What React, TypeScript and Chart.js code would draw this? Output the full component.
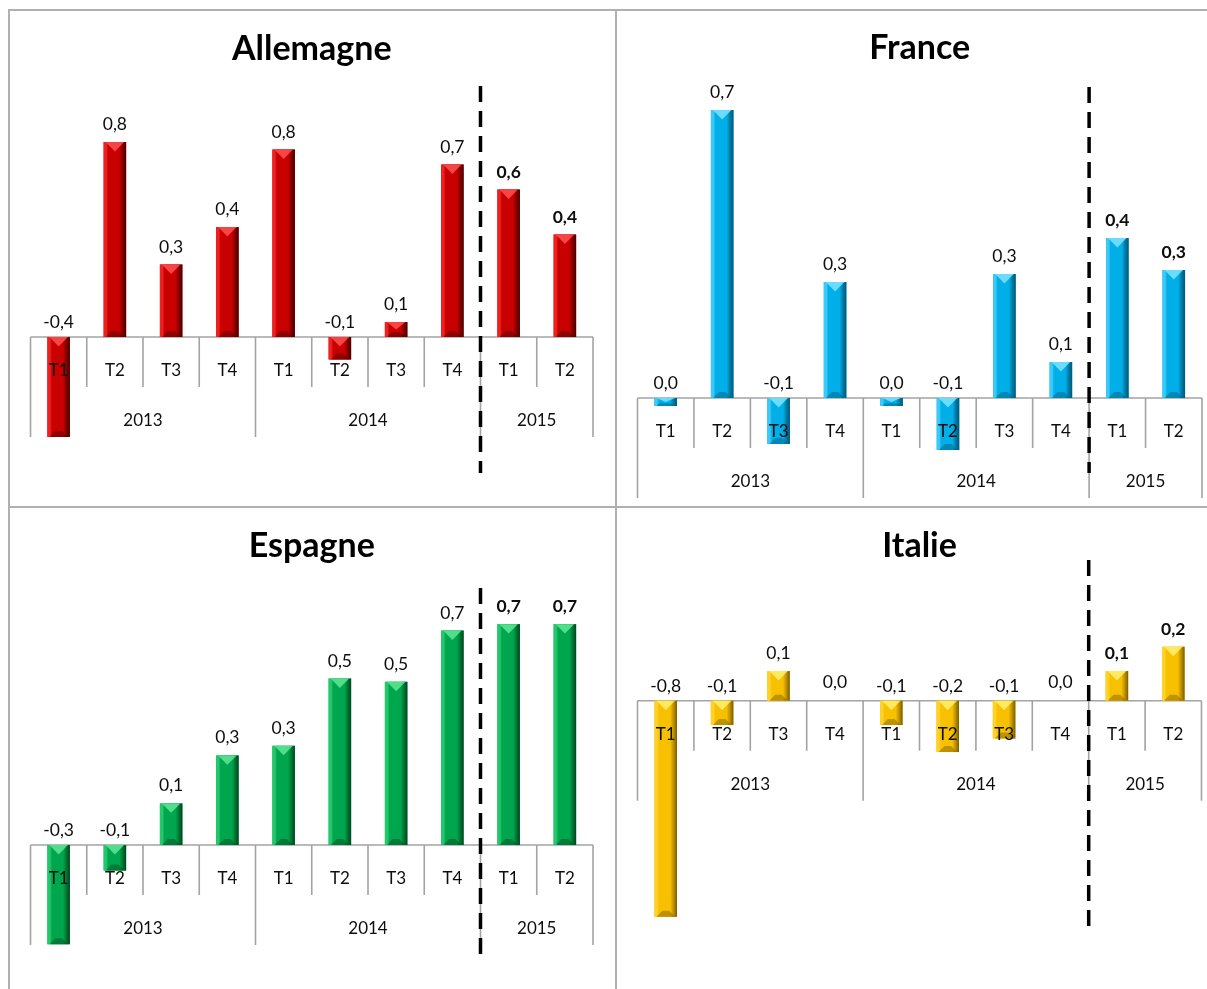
import React, { useEffect, useRef } from 'react';
import { Chart, registerables } from 'chart.js';

Chart.register(...registerables);

// ---------- data ----------
const quarterLabels = ['T1', 'T2', 'T3', 'T4', 'T1', 'T2', 'T3', 'T4', 'T1', 'T2'];
const yearLabels = ['2013', '2014', '2015'];
const yearSizes = [4, 4, 2];
const boldFromIndex = 8; // 2015 labels in bold
const dashAfterIndex = 7; // dashed separator between 2014 T4 and 2015 T1

const allemagneValues = [-0.4, 0.78, 0.29, 0.44, 0.75, -0.09, 0.06, 0.69, 0.59, 0.41];
const franceValues = [-0.02, 0.72, -0.115, 0.29, -0.02, -0.13, 0.31, 0.09, 0.4, 0.32];
const espagneValues = [-0.31, -0.08, 0.13, 0.28, 0.31, 0.52, 0.51, 0.67, 0.69, 0.69];
const italieValues = [-0.8, -0.09, 0.11, 0, -0.09, -0.19, -0.14, 0, 0.11, 0.2];

// ---------- style ----------
const FONT = "Lato, 'Open Sans', 'DejaVu Sans', sans-serif";
const AXIS_COLOR = '#a3a3a3';
const TEXT_COLOR = '#0d0d0d';

type Palette = { base: string; light: string; dark: string; top: string; bottom: string };
const red: Palette = { base: '#c80000', light: '#f02020', dark: '#4a0000', top: '#ff5050', bottom: '#7a0000' };
const blue: Palette = { base: '#00aee8', light: '#3cc8f8', dark: '#005a7a', top: '#7fe4ff', bottom: '#0076a0' };
const green: Palette = { base: '#00a64e', light: '#22c86a', dark: '#00461f', top: '#5ee896', bottom: '#00702f' };
const gold: Palette = { base: '#f7c000', light: '#ffd22a', dark: '#7a5c00', top: '#fff070', bottom: '#b88c00' };

type PanelSpec = {
  title: string;
  values: number[];
  palette: Palette;
  canvas: { x: number; y: number; w: number; h: number };
  area: { l: number; r: number; t: number; b: number };
  yMin: number;
  yMax: number;
  titleBaseline: number;
};

const panels: PanelSpec[] = [
  {
    title: 'Allemagne', values: allemagneValues, palette: red,
    canvas: { x: 0, y: 0, w: 612, h: 500 },
    area: { l: 30.5, r: 593, t: 86, b: 473 }, yMin: -0.544, yMax: 1.004, titleBaseline: 60,
  },
  {
    title: 'France', values: franceValues, palette: blue,
    canvas: { x: 612, y: 0, w: 595, h: 500 },
    area: { l: 637.5, r: 1202, t: 87, b: 473 }, yMin: -0.1875, yMax: 0.7775, titleBaseline: 59,
  },
  {
    title: 'Espagne', values: espagneValues, palette: green,
    canvas: { x: 0, y: 500, w: 612, h: 489 },
    area: { l: 30.5, r: 593, t: 588, b: 958 }, yMin: -0.353, yMax: 0.803, titleBaseline: 557,
  },
  {
    title: 'Italie', values: italieValues, palette: gold,
    canvas: { x: 612, y: 500, w: 595, h: 489 },
    area: { l: 637.5, r: 1201.5, t: 560, b: 929 }, yMin: -0.845, yMax: 0.521, titleBaseline: 557,
  },
];

function fmt(v: number): string {
  let r = Math.round(v * 10) / 10;
  if (Object.is(r, -0) || Math.abs(r) < 1e-9) r = 0;
  return r.toFixed(1).replace('.', ',');
}

function makePlugin(spec: PanelSpec) {
  return {
    id: 'panelDecor',
    beforeDatasetsDraw(chart: any) {
      const { ctx, chartArea } = chart;
      const xs = chart.scales.x;
      const ys = chart.scales.y;
      const y0 = ys.getPixelForValue(0);
      const n = quarterLabels.length;
      const half = (xs.getPixelForValue(1) - xs.getPixelForValue(0)) / 2;
      const groupBounds: number[] = [0];
      let acc = 0;
      yearSizes.forEach((s) => { acc += s; groupBounds.push(acc); });
      ctx.save();
      ctx.strokeStyle = AXIS_COLOR;
      ctx.lineWidth = 1.6;
      ctx.beginPath();
      ctx.moveTo(chartArea.left, y0);
      ctx.lineTo(chartArea.right, y0);
      ctx.stroke();
      for (let i = 0; i <= n; i++) {
        const bx = i < n ? xs.getPixelForValue(i) - half : xs.getPixelForValue(n - 1) + half;
        const isGroup = groupBounds.includes(i);
        ctx.beginPath();
        ctx.moveTo(bx, y0);
        ctx.lineTo(bx, y0 + (isGroup ? 100 : 50));
        ctx.stroke();
      }
      ctx.restore();
    },
    afterDatasetsDraw(chart: any) {
      const { ctx, chartArea } = chart;
      const xs = chart.scales.x;
      const ys = chart.scales.y;
      const y0 = ys.getPixelForValue(0);
      const half = (xs.getPixelForValue(1) - xs.getPixelForValue(0)) / 2;
      const p = spec.palette;
      const meta = chart.getDatasetMeta(0);
      ctx.save();
      // bevelled bars
      meta.data.forEach((el: any) => {
        const { x, y, base, width } = el.getProps(['x', 'y', 'base', 'width'], true);
        const left = x - width / 2;
        const right = x + width / 2;
        const top = Math.min(y, base);
        const bot = Math.max(y, base);
        const h = bot - top;
        if (h < 0.5) return;
        const g = ctx.createLinearGradient(left, 0, right, 0);
        g.addColorStop(0, p.light);
        g.addColorStop(0.12, p.light);
        g.addColorStop(0.2, p.base);
        g.addColorStop(0.7, p.base);
        g.addColorStop(0.86, p.bottom);
        g.addColorStop(1, p.dark);
        ctx.fillStyle = g;
        ctx.fillRect(left, top, width, h);
        const bev = Math.min(width * 0.42, h / 2);
        // top chevron
        ctx.fillStyle = p.top;
        ctx.globalAlpha = 0.85;
        ctx.beginPath();
        ctx.moveTo(left + 2, top);
        ctx.lineTo(right - 2, top);
        ctx.lineTo(x, top + bev);
        ctx.closePath();
        ctx.fill();
        // bottom darker band
        ctx.globalAlpha = 0.45;
        ctx.fillStyle = p.dark;
        const bb = Math.min(6, h / 3);
        ctx.beginPath();
        ctx.moveTo(left + 2, bot);
        ctx.lineTo(right - 2, bot);
        ctx.lineTo(right - 2 - bb, bot - bb);
        ctx.lineTo(left + 2 + bb, bot - bb);
        ctx.closePath();
        ctx.fill();
        ctx.globalAlpha = 1;
      });

      // quarter labels
      ctx.fillStyle = TEXT_COLOR;
      ctx.font = `17px ${FONT}`;
      ctx.textAlign = 'center';
      ctx.textBaseline = 'middle';
      quarterLabels.forEach((lab, i) => {
        ctx.fillText(lab, xs.getPixelForValue(i), y0 + 34);
      });
      // year labels
      let start = 0;
      yearLabels.forEach((yl, gi) => {
        const end = start + yearSizes[gi];
        const cx = (xs.getPixelForValue(start) - half + xs.getPixelForValue(end - 1) + half) / 2;
        ctx.fillText(yl, cx, y0 + 84);
        start = end;
      });

      // value labels
      ctx.textBaseline = 'alphabetic';
      meta.data.forEach((el: any, i: number) => {
        const v = spec.values[i];
        const { x, y } = el.getProps(['x', 'y'], true);
        ctx.font = `${i >= boldFromIndex ? 'bold ' : ''}17.5px ${FONT}`;
        const ty = v > 0 ? y - 12 : v === 0 ? y0 - 13 : y0 - 9;
        ctx.fillText(fmt(v), x, ty);
      });

      // title
      ctx.font = `bold 34px ${FONT}`;
      ctx.fillStyle = '#000000';
      ctx.fillText(spec.title, (chartArea.left + chartArea.right) / 2, spec.titleBaseline - spec.canvas.y);

      // dashed separator
      const dx = xs.getPixelForValue(dashAfterIndex) + half;
      ctx.strokeStyle = '#000000';
      ctx.lineWidth = 3.5;
      ctx.setLineDash([16, 9]);
      ctx.beginPath();
      ctx.moveTo(dx, chartArea.top);
      ctx.lineTo(dx, chartArea.bottom);
      ctx.stroke();
      ctx.setLineDash([]);
      ctx.restore();
    },
  };
}

function Panel({ spec }: { spec: PanelSpec }) {
  const ref = useRef<HTMLCanvasElement | null>(null);
  useEffect(() => {
    if (!ref.current) return;
    const c = spec.canvas;
    const a = spec.area;
    const chart = new Chart(ref.current, {
      type: 'bar',
      data: {
        labels: quarterLabels,
        datasets: [
          {
            data: spec.values,
            backgroundColor: spec.palette.base,
            borderWidth: 0,
            barPercentage: 0.4,
            categoryPercentage: 1,
          },
        ],
      },
      options: {
        responsive: false,
        animation: false,
        maintainAspectRatio: false,
        layout: {
          padding: {
            left: a.l - c.x,
            right: c.x + c.w - a.r,
            top: a.t - c.y,
            bottom: c.y + c.h - a.b,
          },
        },
        scales: {
          x: { type: 'category', display: false, offset: true, grid: { display: false } },
          y: { type: 'linear', display: false, min: spec.yMin, max: spec.yMax },
        },
        plugins: {
          legend: { display: false },
          tooltip: { enabled: false },
          title: { display: false },
        },
      },
      plugins: [makePlugin(spec)],
    });
    return () => chart.destroy();
  }, [spec]);
  const c = spec.canvas;
  return (
    <canvas
      ref={ref}
      width={c.w}
      height={c.h}
      style={{ position: 'absolute', left: c.x, top: c.y, width: c.w, height: c.h }}
    />
  );
}

const BORDER = '#b0b0b0';

export default function App() {
  return (
    <div style={{ position: 'absolute', left: 0, top: 0, width: 1207, height: 989, background: '#ffffff', overflow: 'hidden' }}>
      {panels.map((p) => (
        <Panel key={p.title} spec={p} />
      ))}
      <div style={{ position: 'absolute', left: 8, top: 9, width: 2, height: 980, background: BORDER }} />
      <div style={{ position: 'absolute', left: 615, top: 9, width: 2, height: 980, background: BORDER }} />
      <div style={{ position: 'absolute', left: 8, top: 9, width: 1199, height: 2, background: BORDER }} />
      <div style={{ position: 'absolute', left: 8, top: 506, width: 1199, height: 2, background: BORDER }} />
    </div>
  );
}
